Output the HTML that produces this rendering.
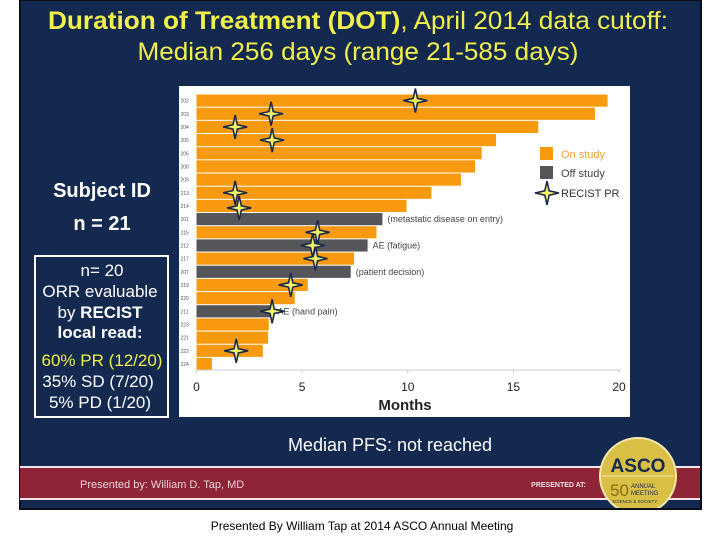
<!DOCTYPE html>
<html><head><meta charset="utf-8"><style>
html,body{margin:0;padding:0;background:#fff;width:720px;height:540px;overflow:hidden}
svg{display:block;font-family:"Liberation Sans",sans-serif}
</style></head><body>
<svg id="s" width="720" height="540" viewBox="0 0 720 540" xmlns="http://www.w3.org/2000/svg">
<defs><clipPath id="slideclip"><rect x="20" y="0" width="680" height="508"/></clipPath></defs>
<rect x="20" y="0" width="681" height="509" fill="#13294f" stroke="#0a0f1a" stroke-width="2"/>
<text x="358" y="29" text-anchor="middle" font-size="25" fill="#f2f04a" textLength="620" lengthAdjust="spacingAndGlyphs"><tspan font-weight="bold">Duration of Treatment (DOT)</tspan>, April 2014 data cutoff:</text>
<text x="358" y="60" text-anchor="middle" font-size="25" fill="#f2f04a" textLength="441" lengthAdjust="spacingAndGlyphs">Median 256 days (range 21-585 days)</text>
<text x="102" y="197" text-anchor="middle" font-size="20" font-weight="bold" fill="#fff">Subject ID</text>
<text x="102" y="230" text-anchor="middle" font-size="20" font-weight="bold" fill="#fff">n = 21</text>
<g>
<rect x="35" y="256" width="133" height="161" fill="none" stroke="#fff" stroke-width="2"/>
<g font-size="17" text-anchor="middle" fill="#fff">
<text x="102" y="276">n= 20</text>
<text x="100" y="297">ORR evaluable</text>
<text x="100" y="318">by <tspan font-weight="bold">RECIST</tspan></text>
<text x="100" y="338" font-weight="bold">local read:</text>
<text x="102" y="366" fill="#f2f04a">60% PR (12/20)</text>
<text x="98" y="387">35% SD (7/20)</text>
<text x="100" y="408">5% PD (1/20)</text>
</g></g>
<rect x="179" y="86" width="451" height="331" fill="#fff"/>
<g id="chart"></g>
<text x="390" y="451" text-anchor="middle" font-size="18" fill="#fff">Median PFS:  not reached</text>
<g clip-path="url(#slideclip)">
<rect x="20" y="466" width="680" height="2" fill="#f4e4e8"/>
<rect x="20" y="468" width="680" height="30" fill="#8e2436"/>
<rect x="20" y="498" width="680" height="2" fill="#f4e4e8"/>
<text x="80" y="488" font-size="11" fill="#e8d4d8">Presented by:  William D. Tap, MD</text>
<text x="586" y="487" text-anchor="end" font-size="7" font-weight="bold" fill="#f0e0e4">PRESENTED AT:</text>
<g>
<circle cx="638" cy="476" r="38" fill="#d9bf45" stroke="#f4e8b0" stroke-width="2"/>
<text x="638" y="472" text-anchor="middle" font-size="19" font-weight="bold" fill="#14294f">ASCO</text>
<line x1="602" y1="476" x2="674" y2="476" stroke="#f4e8b0" stroke-width="1"/>
<text x="610" y="496" font-size="17" fill="#8a6d10">50</text>
<text x="631" y="488" font-size="6" fill="#14294f">ANNUAL</text>
<text x="631" y="495" font-size="6" fill="#14294f">MEETING</text>
<text x="612" y="503" font-size="4.5" fill="#14294f">SCIENCE &amp; SOCIETY</text>
</g></g>
<text x="362" y="530" text-anchor="middle" font-size="12" fill="#000">Presented By William Tap at 2014 ASCO Annual Meeting</text>
</svg>
<script>
const subjects=["202","203","204","205","206","208","209","213","214","201","215","212","217","207","219","220","211","223","221","222","224"];
const durations=[19.46,18.86,16.18,14.18,13.5,13.19,12.52,11.12,9.94,8.8,8.52,8.1,7.46,7.3,5.27,4.65,3.6,3.42,3.39,3.14,0.73];
const offStudy=[0,0,0,0,0,0,0,0,0,1,0,1,0,1,0,0,1,0,0,0,0];
const prSubjects=["202","203","204","205","213","214","215","212","217","219","211","222"];
const prMonths=[10.36,3.53,1.83,3.58,1.83,2.02,5.73,5.5,5.63,4.46,3.58,1.88];
const annotations=[["201","(metastatic disease on entry)"],["212","AE (fatigue)"],["207","(patient decision)"],["211","AE (hand pain)"]];
const xTicks=[0,5,10,15,20];
const NS="http://www.w3.org/2000/svg";
const g=document.getElementById('chart');
const X0=196.5,X1=619,Y0=94,PITCH=13.17;
const xs=v=>X0+(X1-X0)*v/20;
const ys=i=>Y0+i*PITCH;
function mk(t,a){const e=document.createElementNS(NS,t);for(const k in a)e.setAttribute(k,a[k]);g.appendChild(e);return e;}
subjects.forEach((s,i)=>{
  const r=mk('rect',{x:X0,y:ys(i)+0.5,width:xs(durations[i])-X0,height:PITCH-1,fill:offStudy[i]?'#555659':'#f79a10'});
  
  
  const t=mk('text',{x:X0-16,y:ys(i)+PITCH/2+2,'font-size':5,fill:'#555'});
  t.textContent=s;
  
  
});
mk('line',{x1:X0,y1:370,x2:X1+2,y2:370,stroke:'#ccc','stroke-width':1});
xTicks.forEach(v=>{
  mk('line',{x1:xs(v),y1:370,x2:xs(v),y2:373,stroke:'#ccc'});
  const t=mk('text',{x:xs(v),y:391,'font-size':12,'text-anchor':'middle',fill:'#222'});
  t.textContent=v;
  
  
});
const xt=mk('text',{x:405,y:410,'font-size':15,'font-weight':'bold','text-anchor':'middle',fill:'#222'});
xt.textContent='Months';


annotations.forEach(([s,txt])=>{
  const i=subjects.indexOf(s);
  const t=mk('text',{x:xs(durations[i])+5,y:ys(i)+PITCH/2+3,'font-size':9,fill:'#444'});
  t.textContent=txt;
  
  
});
function star(cx,cy,r){
  const w=r*0.18;
  return `M${cx},${cy-r} L${cx+w},${cy-w} L${cx+r},${cy} L${cx+w},${cy+w} L${cx},${cy+r} L${cx-w},${cy+w} L${cx-r},${cy} L${cx-w},${cy-w}Z`;
}
prSubjects.forEach((s,k)=>{
  const i=subjects.indexOf(s);
  const off=s==="214"?2:0;
  const p=mk('path',{d:star(xs(prMonths[k]),ys(i)+PITCH/2+off,12),fill:'#f4f46a',stroke:'#1a2a4a','stroke-width':1.6});
  
  
});
const lg=[['#f79a10','On study','#f0a030'],['#555659','Off study','#444']];
lg.forEach(([c,l,tc],k)=>{
  const r=mk('rect',{x:540,y:147+k*19,width:13,height:13,fill:c});
  
  
  const t=mk('text',{x:561,y:158+k*19,'font-size':11,fill:tc});
  t.textContent=l;
  
  
});
const ls=mk('path',{d:star(547,193,12),fill:'#f4f46a',stroke:'#1a2a4a','stroke-width':1.6});


const lt=mk('text',{x:561,y:197,'font-size':11,fill:'#333'});
lt.textContent='RECIST PR';


</script>
</body></html>
